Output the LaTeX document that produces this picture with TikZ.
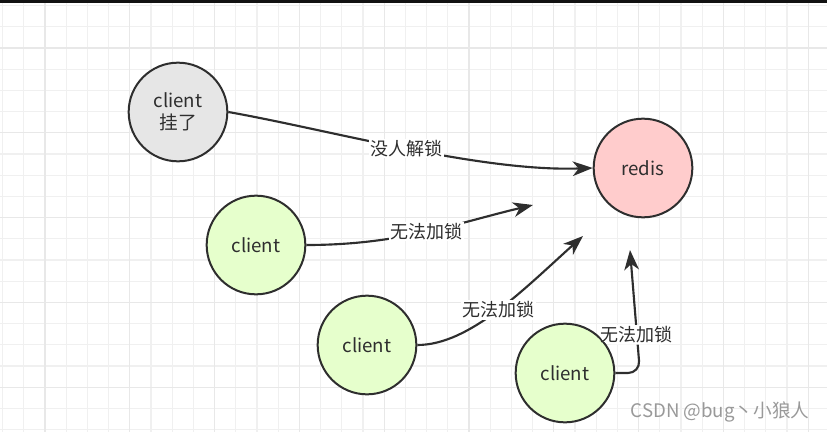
\documentclass[tikz,border=0pt]{standalone}
\usepackage{fontspec}
\setmainfont{Noto Sans CJK SC}
\usetikzlibrary{arrows.meta}
\definecolor{ink}{HTML}{2E2E2E}
\definecolor{deadgrey}{HTML}{E6E6E6}
\definecolor{redispink}{HTML}{FFCCCC}
\definecolor{livegreen}{HTML}{E6FFCC}
\definecolor{gridminor}{HTML}{F0F0F0}
\definecolor{gridmajor}{HTML}{E8E8E8}
\definecolor{markgrey}{HTML}{999999}
\begin{document}
\begin{tikzpicture}[
  x=0.75pt, y=-0.75pt,
  peer/.style={circle, draw=ink, line width=1.5pt, minimum size=74pt, inner sep=0pt,
    text=ink, align=center, font=\fontsize{14}{16.5}\selectfont},
  lock/.style={fill=white, inner sep=1pt, text=ink, font=\fontsize{13.5}{16}\selectfont},
  link/.style={draw=ink, line width=1.6pt, -{Stealth[length=15pt,width=11pt,inset=4.5pt]}},
]
\useasboundingbox (0,0) rectangle (827,432);
% background grid
\foreach \i in {0,...,38} \draw[gridminor, line width=1pt] ({2.6+21.2*\i},3) -- ++(0,429);
\foreach \j in {0,...,20} \draw[gridminor, line width=1pt] (0,{5.6+21.2*\j}) -- ++(827,0);
\foreach \i in {0,...,9} \draw[gridmajor, line width=1pt] ({45+84.8*\i},3) -- ++(0,429);
\foreach \j in {0,...,4} \draw[gridmajor, line width=1pt] (0,{48+84.8*\j}) -- ++(827,0);
\fill[black!93] (0,0) rectangle (827,3);
% clients and server
\node[peer, fill=deadgrey] (dead) at (178,112) {client\\挂了};
\node[peer, fill=redispink] (redis) at (643,168) {redis};
\node[peer, fill=livegreen] (c1) at (256,245) {client};
\node[peer, fill=livegreen] (c2) at (367,345) {client};
\node[peer, fill=livegreen] (c3) at (565,373) {client};
\coordinate (end1) at (533,205);
\coordinate (end2) at (583,236);
\coordinate (bend3) at (640,373);
\coordinate (end3) at (630,250);
% lock requests
\draw[link] (dead.east) .. controls (330,130) and (480,172) .. node[lock] {没人解锁} (redis.west);
\draw[link] (c1.east) .. controls (400,245) and (457,223) .. node[lock] {无法加锁} (end1);
\draw[link] (c2.east) .. controls (470,345) and (525,288) .. node[lock] {无法加锁} (end2);
\draw[link, rounded corners=9pt] (c3.east) -- (bend3) -- node[lock, pos=0.31] {无法加锁} (end3);
\node[text=markgrey, font=\fontsize{14}{16}\selectfont] (mark) at (720,412) {CSDN @bug丶小狼人};
\end{tikzpicture}
\end{document}
